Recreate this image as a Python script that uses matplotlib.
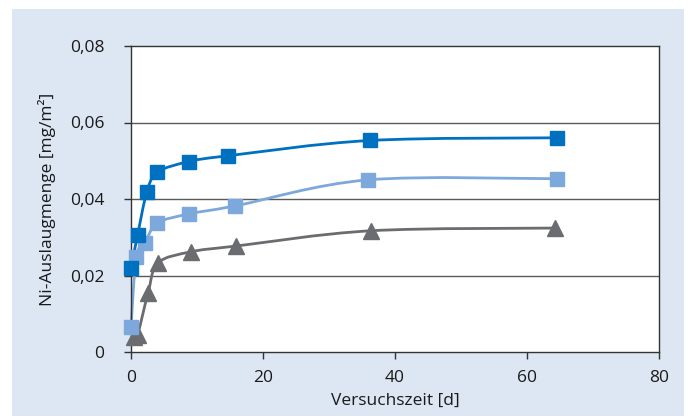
import numpy as np
import matplotlib
matplotlib.use("Agg")
import matplotlib.pyplot as plt
from matplotlib.path import Path
from matplotlib.patches import PathPatch, Rectangle

plt.rcParams['font.family'] = ['Open Sans', 'DejaVu Sans']

# data
t_dark = [0.0, 1.0, 2.4, 4.0, 8.8, 14.7, 36.2, 64.5]
ni_dark = [0.0220, 0.0306, 0.0418, 0.0470, 0.0498, 0.0513, 0.0553, 0.0560]

t_light = [0.0, 0.8, 2.1, 4.0, 8.8, 15.8, 35.9, 64.5]
ni_light = [0.0065, 0.0248, 0.0286, 0.0337, 0.0361, 0.0382, 0.0450, 0.0453]

t_gray = [0.5, 1.0, 2.6, 4.1, 9.1, 15.9, 36.4, 64.2]
ni_gray = [0.0040, 0.0045, 0.0155, 0.0233, 0.0262, 0.0277, 0.0317, 0.0324]

xticks = [0, 20, 40, 60, 80]
yticks = [0, 0.02, 0.04, 0.06, 0.08]
ytick_labels = ['0', '0,02', '0,04', '0,06', '0,08']

c_dark = '#0070C0'
c_light = '#7DA8DC'
c_gray = '#6B6C70'
bg = '#DCE7F3'


def smooth_path(x, y):
    # Excel-like smoothed line: cubic Bezier segments through the points
    p = np.column_stack([x, y])
    n = len(p)
    verts = [p[0]]
    codes = [Path.MOVETO]
    for i in range(n - 1):
        p0 = p[i - 1] if i > 0 else p[i]
        p1 = p[i]
        p2 = p[i + 1]
        p3 = p[i + 2] if i + 2 < n else p[i + 1]
        c1 = p1 + (p2 - p0) / 6.0
        c2 = p2 - (p3 - p1) / 6.0
        verts += [c1, c2, p2]
        codes += [Path.CURVE4] * 3
    return Path(verts, codes)


fig = plt.figure(figsize=(6.89, 4.18), dpi=100)
fig.patches.append(Rectangle((12 / 689, 2 / 418), 672 / 689, 407 / 418,
                             transform=fig.transFigure, facecolor=bg,
                             edgecolor='none', zorder=-1))
ax = fig.add_axes([131 / 689, 66 / 418, 528 / 689, 306 / 418])
ax.set_facecolor('white')

for v in yticks[1:-1]:
    ax.axhline(v, color='#5a5a5a', lw=1.0, zorder=1)

for tx, ny, col, mk, ms in [(t_gray, ni_gray, c_gray, '^', 11.5),
                            (t_light, ni_light, c_light, 's', 10.5),
                            (t_dark, ni_dark, c_dark, 's', 10.5)]:
    ax.add_patch(PathPatch(smooth_path(tx, ny), facecolor='none',
                           edgecolor=col, lw=2.0, zorder=2, clip_on=False))
    ax.plot(tx, ny, linestyle='none', marker=mk, ms=ms, color=col,
            markeredgecolor=col, zorder=3, clip_on=False)

ax.set_xlim(0, 80)
ax.set_ylim(0, 0.08)
ax.set_xticks(xticks)
ax.set_yticks(yticks)
ax.set_yticklabels(ytick_labels)
ax.tick_params(direction='out', length=5, width=1, colors='#333333',
               labelsize=12.5, labelcolor='#1a1a1a')
ax.tick_params(axis='y', pad=14)
ax.tick_params(axis='x', pad=8)
for s in ax.spines.values():
    s.set_color('#333333')
    s.set_linewidth(1.0)

ax.set_xlabel('Versuchszeit [d]', fontsize=12.5, color='#1a1a1a', labelpad=5)
ax.set_ylabel('Ni-Auslaugmenge [mg/m²]', fontsize=12.5, color='#1a1a1a',
              labelpad=10)

fig.savefig('out.png', dpi=100)
